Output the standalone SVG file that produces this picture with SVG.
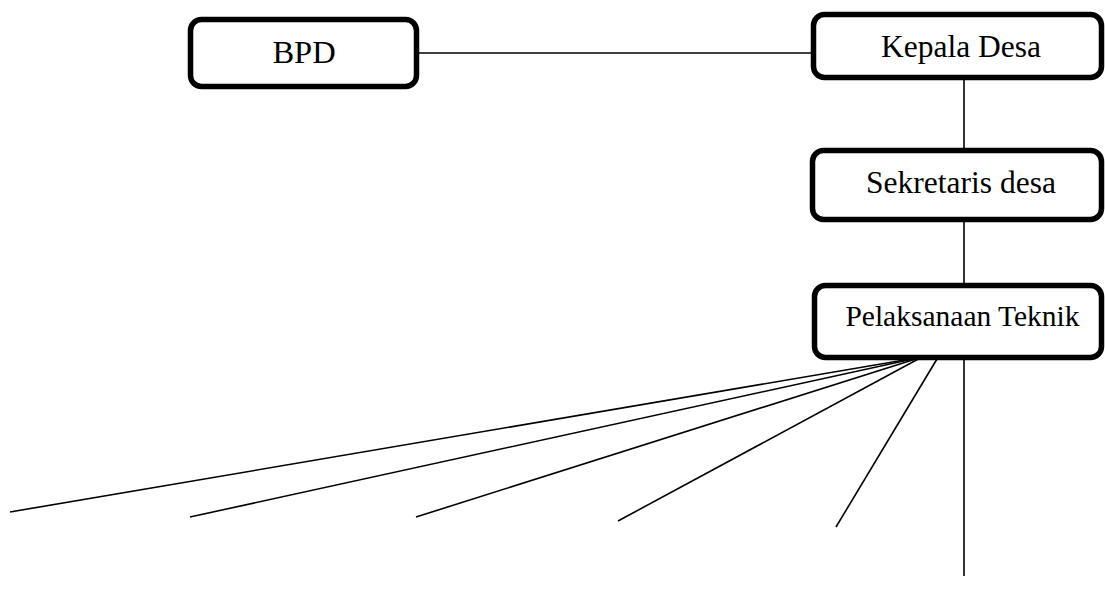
<svg xmlns="http://www.w3.org/2000/svg" width="1105" height="601" viewBox="0 0 1105 601">
  <style>
    .box { fill: #ffffff; stroke: #000000; stroke-width: 5.5; }
    .label { font-family: "Liberation Serif", "Times New Roman", serif; fill: #000000; text-anchor: middle; }
    .link { stroke: #000000; stroke-width: 1.6; fill: none; }
  </style>
  <rect width="1105" height="601" fill="#ffffff"/>

  <!-- connectors -->
  <g id="connectors">
    <line class="link" x1="418" y1="53" x2="812" y2="53"/>
    <line class="link" x1="964" y1="79" x2="964" y2="149"/>
    <line class="link" x1="964" y1="221" x2="964" y2="284"/>
    <line class="link" x1="964" y1="359" x2="964" y2="576"/>
    <line class="link" x1="922" y1="357" x2="10" y2="512"/>
    <line class="link" x1="922" y1="357" x2="190" y2="517"/>
    <line class="link" x1="922" y1="357" x2="416" y2="517"/>
    <line class="link" x1="922" y1="357" x2="618" y2="521"/>
    <line class="link" x1="937" y1="359" x2="836" y2="527"/>
    <path d="M 905 357 L 923 353 L 918 358 Z" fill="#000000"/>
  </g>

  <!-- nodes -->
  <g id="bpd">
    <rect class="box" x="190.5" y="19.5" width="226" height="67" rx="11"/>
    <text class="label" x="304" y="63" font-size="32.5">BPD</text>
  </g>
  <g id="kepala-desa">
    <rect class="box" x="813.5" y="14.5" width="288" height="63" rx="11"/>
    <text class="label" x="961" y="57" font-size="31.5">Kepala Desa</text>
  </g>
  <g id="sekretaris-desa">
    <rect class="box" x="812.5" y="150.5" width="289" height="69" rx="11"/>
    <text class="label" x="961" y="193" font-size="31.5">Sekretaris desa</text>
  </g>
  <g id="pelaksanaan-teknik">
    <rect class="box" x="814.5" y="285.5" width="287" height="72" rx="11"/>
    <text class="label" x="962.5" y="326" font-size="29.5">Pelaksanaan Teknik</text>
  </g>
</svg>
